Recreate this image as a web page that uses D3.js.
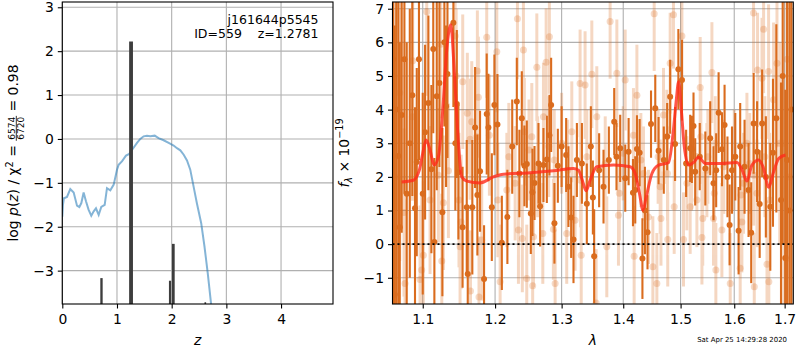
<!DOCTYPE html>
<html><head><meta charset="utf-8">
<script src="https://cdn.jsdelivr.net/npm/d3@7"></script>
<style>body{margin:0;background:#fff}svg text{font-family:"DejaVu Sans",sans-serif}</style>
</head><body><svg id="c" width="800" height="350"></svg>
<script>
// ---------- data ----------
const pzZ = [0,0.012,0.03,0.086,0.146,0.208,0.269,0.311,0.348,0.39,0.433,0.48,0.53,0.574,0.616,0.665,0.713,0.775,0.817,0.878,0.94,1.0,1.03,1.09,1.165,1.225,1.287,1.366,1.426,1.487,1.548,1.61,1.69,1.76,1.853,1.945,2.036,2.097,2.158,2.22,2.28,2.34,2.40,2.46,2.54,2.60,2.66,2.72,2.76];
const pzLog = [-1.77,-1.5,-1.35,-1.32,-1.14,-1.22,-1.52,-1.55,-1.46,-1.22,-1.42,-1.61,-1.75,-1.65,-1.58,-1.73,-1.55,-1.5,-1.12,-1.17,-1.04,-0.70,-0.59,-0.51,-0.38,-0.34,-0.23,-0.09,0.0,0.06,0.075,0.06,0.075,0.02,-0.03,-0.09,-0.15,-0.21,-0.26,-0.36,-0.49,-0.70,-1.08,-1.46,-1.92,-2.45,-3.06,-3.75,-4.3];
const barLo  = [0.695,1.222,1.950,2.005,2.600];
const barHi  = [0.738,1.292,1.990,2.055,2.630];
const barTop = [-3.17,2.22,-3.23,-2.39,-3.72];

const darkWave = [1.0615,1.0635,1.0655,1.0681,1.0700,1.0725,1.0760,1.0790,1.0830,1.0863,1.0898,1.0921,1.0950,1.1000,1.1031,1.1075,1.1115,1.1140,1.1155,1.1187,1.1223,1.1263,1.1290,1.1313,1.1332,1.1413,1.1440,1.1460,1.1482,1.1540,1.1598,1.1612,1.1676,1.1715,1.1747,1.1785,1.1842,1.1880,1.1904,1.1953,1.1990,1.2034,1.2098,1.2179,1.2250,1.2318,1.2356,1.2392,1.2431,1.2467,1.2527,1.2552,1.2583,1.2643,1.2668,1.2719,1.2771,1.2811,1.2837,1.2888,1.2941,1.3000,1.3071,1.3107,1.3150,1.3187,1.3241,1.3321,1.3400,1.3465,1.3498,1.3519,1.3600,1.3672,1.3760,1.3849,1.3887,1.3949,1.4034,1.4091,1.4165,1.4204,1.4233,1.4279,1.4327,1.4370,1.4415,1.4476,1.4550,1.4608,1.4700,1.4760,1.4813,1.4901,1.4960,1.5025,1.5100,1.5174,1.5205,1.5235,1.5266,1.5350,1.5453,1.5544,1.5606,1.5656,1.5702,1.5766,1.5815,1.5870,1.5911,1.5957,1.6020,1.6084,1.6115,1.6200,1.6278,1.6330,1.6378,1.6446,1.6497,1.6546,1.6620,1.6709,1.6763,1.6831,1.6926,1.6960,1.7013,1.7050,1.7100,1.7140];
const darkFlux = [5.5,-1.5,4.0,2.62,0.5,3.84,5.5,1.5,3.0,4.43,1.07,2.44,5.5,1.5,3.33,4.2,2.23,5.8,0.06,4.4,4.79,0.95,6.0,4.1,5.06,6.58,3.0,4.17,2.14,0.5,1.1,-0.89,1.1,3.47,1.46,2.17,-1.04,3.87,3.47,1.1,4.14,3.56,0.04,0.81,2.9,4.24,2.1,3.74,2.33,2.38,0.91,1.54,1.82,2.4,1.13,2.35,2.52,3.24,4.14,0.62,2.33,2.9,2.65,1.71,0.79,0.14,2.5,2.4,1.2,2.9,1.39,-0.36,2.2,1.71,2.5,3.64,2.6,2.85,1.96,2.75,1.53,1.61,2.83,2.72,-0.43,1.0,0.35,3.57,4.04,2.78,2.5,3.2,4.38,2.98,5.2,4.88,2.4,2.85,2.82,3.51,2.15,2.6,2.25,3.15,1.81,2.2,3.91,2.82,3.54,2.0,0.57,2.2,2.6,0.40,2.9,2.3,1.61,0.34,3.59,2.75,1.19,3.59,2.0,1.11,2.72,3.74,1.31,5.0,-0.41,2.5,1.0,4.0];
const darkErr = [8,8,7,6,5.5,3.5,4,4.5,4,3,3,2.8,3,3,2.6,2.6,2.5,2.5,2.5,2.8,2.5,2.5,2.5,2.4,2.5,2.5,2.0,2.2,2.0,1.8,2.0,2.0,2.0,1.8,1.8,1.8,1.6,1.8,1.6,1.6,1.5,1.5,1.4,1.4,1.4,1.3,1.3,1.4,1.2,1.3,1.2,1.3,1.1,1.2,1.2,1.1,1.3,1.2,1.4,1.2,1.1,1.2,1.1,1.2,1.2,1.3,1.1,1.2,1.2,1.2,1.1,1.4,1.1,1.1,1.0,1.0,1.0,1.0,1.0,1.0,1.0,1.0,1.0,1.0,1.2,1.3,1.1,1.0,1.0,1.0,1.0,1.0,1.1,1.1,1.2,1.2,1.0,1.0,1.0,1.0,1.0,1.0,1.1,1.1,1.1,1.1,1.2,1.1,1.2,1.2,1.2,1.3,1.3,1.3,1.3,1.4,1.4,1.5,1.5,1.5,1.6,1.6,1.8,1.9,2.2,2.8,3.5,5,5,7,9,9];

const lightWave = [1.0640,1.0700,1.0755,1.0768,1.0863,1.0868,1.0964,1.0986,1.1008,1.1053,1.1097,1.1209,1.1241,1.1255,1.1277,1.1345,1.1437,1.1451,1.1490,1.1505,1.1520,1.1542,1.1606,1.1644,1.1650,1.1668,1.1738,1.1747,1.1761,1.1770,1.1809,1.1880,1.1918,1.2025,1.2040,1.2073,1.2171,1.2200,1.2293,1.2327,1.2342,1.2400,1.2416,1.2430,1.2466,1.2500,1.2542,1.2555,1.2567,1.2618,1.2630,1.2709,1.2719,1.2760,1.2800,1.2810,1.2872,1.2885,1.2899,1.3000,1.3080,1.3095,1.3160,1.3212,1.3292,1.3300,1.3310,1.3372,1.3400,1.3481,1.3551,1.3562,1.3700,1.3726,1.3781,1.3893,1.3920,1.3935,1.4000,1.4033,1.4173,1.4185,1.4232,1.4300,1.4345,1.4432,1.4508,1.4531,1.4578,1.4600,1.4636,1.4650,1.4695,1.4754,1.4765,1.4770,1.4813,1.4872,1.4885,1.5024,1.5053,1.5114,1.5174,1.5200,1.5297,1.5358,1.5370,1.5390,1.5405,1.5482,1.5500,1.5576,1.5606,1.5620,1.5638,1.5650,1.5764,1.5800,1.5923,1.6000,1.6115,1.6130,1.6148,1.6180,1.6246,1.6300,1.6376,1.6380,1.6390,1.6443,1.6455,1.6543,1.6575,1.6600,1.6643,1.6675,1.6680,1.6695,1.6775,1.6844,1.6900,1.6980,1.7034,1.7050,1.7100];
const lightFlux = [2.0,4.5,0.94,-1.17,3.79,5.45,-1.05,-0.77,-0.33,6.91,1.31,2.05,5.94,-0.5,1.23,2.18,6.19,5.0,1.31,-0.08,0.66,4.83,3.89,3.12,-1.39,3.64,3.19,5.15,4.37,-1.57,0.12,6.15,3.24,5.72,1.31,-1.12,1.61,2.6,1.81,6.7,0.42,0.17,5.77,3.34,-1.02,2.8,3.19,-1.24,0.22,5.26,2.3,0.32,3.79,5.41,2.9,6.17,0.44,2.5,-1.17,3.0,0.32,2.2,3.34,0.71,4.78,1.9,-0.33,4.73,2.6,5.05,-1.75,3.79,2.4,-0.08,6.62,5.08,0.86,1.51,2.7,4.88,3.24,-0.36,4.43,2.5,2.1,0.81,-0.67,6.85,-1.17,2.6,1.71,0.76,3.84,3.19,2.1,0.14,5.38,6.82,1.11,6.19,0.14,1.81,1.11,2.4,1.31,4.66,3.19,0.2,0.76,2.2,2.6,5.1,0.76,1.51,3.0,-0.77,0.42,2.3,-1.17,2.5,-0.72,1.46,0.66,1.81,3.0,2.4,6.87,2.05,-1.27,1.51,5.18,4.93,6.39,2.6,-0.6,5.13,-1.12,1.31,4.29,5.38,3.0,3.0,-0.43,5.5,2.0];
const lightErr = [6,5,2.5,2.5,2.5,2.5,2.2,2.2,2.2,2.5,2.2,2.0,2.2,2.0,2.0,2.0,2.2,2.0,2.0,2.0,2.0,2.0,1.8,1.8,1.8,1.8,1.8,1.8,1.8,1.8,1.8,1.8,1.8,1.8,1.7,1.7,1.7,1.6,1.7,1.8,1.6,1.6,1.7,1.6,1.6,1.5,1.6,1.6,1.5,1.6,1.5,1.5,1.6,1.6,1.5,1.7,1.5,1.5,1.6,1.5,1.5,1.5,1.5,1.5,1.6,1.4,1.5,1.6,1.4,1.6,1.6,1.5,1.4,1.5,1.7,1.6,1.5,1.4,1.4,1.5,1.4,1.5,1.5,1.4,1.4,1.4,1.5,1.7,1.5,1.4,1.4,1.4,1.4,1.4,1.4,1.4,1.5,1.6,1.4,1.6,1.4,1.4,1.4,1.4,1.4,1.5,1.4,1.4,1.4,1.4,1.4,1.5,1.4,1.4,1.4,1.4,1.4,1.4,1.5,1.5,1.5,1.5,1.5,1.5,1.5,1.5,1.8,1.5,1.6,1.6,1.7,1.8,1.9,1.8,1.9,2.0,2.0,2.0,2.3,2.5,3.0,5,5,5,6];

const modelWave = [1.0725,1.0876,1.0955,1.1000,1.1044,1.1097,1.1151,1.1209,1.1268,1.1322,1.1377,1.1422,1.1468,1.1529,1.1598,1.1785,1.1976,1.2121,1.2516,1.2873,1.3186,1.3266,1.3336,1.3389,1.3453,1.3562,1.3838,1.4117,1.4202,1.4276,1.4336,1.4393,1.4492,1.4608,1.4784,1.4865,1.4923,1.4964,1.5013,1.5067,1.5145,1.5236,1.5328,1.5453,1.5732,1.6055,1.6153,1.6247,1.6345,1.6478,1.6564,1.6679,1.6765,1.6882,1.7017];
const modelFlux = [1.85,1.9,2.2,2.7,3.1,2.8,2.35,2.6,3.99,5.77,6.52,5.28,3.49,2.0,1.875,1.82,2.0,2.08,2.12,2.18,2.25,2.2,1.85,1.59,1.9,2.3,2.35,2.3,2.1,1.51,1.01,1.41,2.1,2.35,2.42,3.29,4.29,4.83,3.99,2.9,2.35,2.43,2.58,2.4,2.4,2.43,2.2,1.875,2.35,2.5,2.3,1.69,2.1,2.55,2.65];

const zTicks = [0,1,2,3,4];
const logpTicks = [-3,-2,-1,0,1,2,3];
const waveTicks = [1.1,1.2,1.3,1.4,1.5,1.6,1.7];
const fluxTicks = [-1,0,1,2,3,4,5,6,7];

// ---------- drawing ----------
const svg = d3.select("#c");
const FS = 13.9, LW = 1.1, GRID = "#b0b0b0";
const DARK = "#da6c1e", RED = "#ff2a1a";
const defs = svg.append("defs");

function panel(id, box, xs, ys, xt, yt, xfmt, yfmt) {
  defs.append("clipPath").attr("id", id).append("rect")
    .attr("x", box.x0).attr("y", box.y0).attr("width", box.x1 - box.x0).attr("height", box.y1 - box.y0);
  const g = svg.append("g");
  const grid = g.append("g").attr("stroke", GRID).attr("stroke-width", LW);
  xt.forEach(v => grid.append("line").attr("x1", xs(v)).attr("x2", xs(v)).attr("y1", box.y0).attr("y2", box.y1));
  yt.forEach(v => grid.append("line").attr("y1", ys(v)).attr("y2", ys(v)).attr("x1", box.x0).attr("x2", box.x1));
  const plot = g.append("g").attr("clip-path", `url(#${id})`);
  const ax = svg.append("g").attr("transform", `translate(0,${box.y1})`)
    .call(d3.axisBottom(xs).tickValues(xt).tickFormat(xfmt).tickSize(4.5).tickPadding(4));
  const ay = svg.append("g").attr("transform", `translate(${box.x0},0)`)
    .call(d3.axisLeft(ys).tickValues(yt).tickFormat(yfmt).tickSize(4.5).tickPadding(4));
  [ax, ay].forEach(a => {
    a.select(".domain").remove();
    a.attr("font-size", FS).attr("font-family", "DejaVu Sans");
    a.selectAll("line").attr("stroke", "#000").attr("stroke-width", LW);
    a.selectAll("text").attr("fill", "#000");
  });
  ax.selectAll("text").attr("dy", "0.86em");
  return {plot, frame: () => svg.append("rect").attr("x", box.x0).attr("y", box.y0)
      .attr("width", box.x1 - box.x0).attr("height", box.y1 - box.y0)
      .attr("fill", "none").attr("stroke", "#000").attr("stroke-width", LW)};
}

// Left panel
const LB = {x0: 62.3, x1: 333, y0: 2, y1: 304};
const xz = d3.scaleLinear().domain([0, 4.95]).range([LB.x0, LB.x1]);
const yp = d3.scaleLinear().domain([-3.76, 3.12]).range([LB.y1, LB.y0]);
const P1 = panel("clipL", LB, xz, yp, zTicks, logpTicks, d3.format("d"), d3.format("d"));
P1.plot.append("path").datum(pzZ.map((z, i) => [z, pzLog[i]]))
  .attr("d", d3.line().x(d => xz(d[0])).y(d => yp(d[1])))
  .attr("fill", "none").attr("stroke", "#1f77b4").attr("stroke-opacity", 0.55).attr("stroke-width", 2);
P1.plot.selectAll("rect.bar").data(barTop).enter().append("rect")
  .attr("x", (d, i) => xz(barLo[i])).attr("width", (d, i) => xz(barHi[i]) - xz(barLo[i]))
  .attr("y", d => yp(d)).attr("height", d => LB.y1 - yp(d))
  .attr("fill", "#3d3d3d");
P1.frame();

svg.append("text").attr("x", 318.5).attr("y", 24).attr("text-anchor", "end").attr("font-size", 12.5).text("j161644p5545");
svg.append("text").attr("x", 318.5).attr("y", 38.3).attr("text-anchor", "end").attr("font-size", 12.5)
  .style("white-space", "pre").text("ID=559    z=1.2781");
svg.append("text").attr("x", (LB.x0 + LB.x1) / 2).attr("y", 345).attr("text-anchor", "middle")
  .attr("font-size", FS).attr("font-style", "italic").text("z");

// left y label with stacked fraction
{
  const outer = svg.append("g").attr("transform", `translate(18.3,${(LB.y0 + LB.y1) / 2}) rotate(-90)`);
  const g = outer.append("g");
  const t1 = g.append("text").attr("font-size", FS).attr("x", 0).attr("y", 0);
  t1.append("tspan").text("log ");
  t1.append("tspan").attr("font-style", "italic").text("p");
  t1.append("tspan").text("(");
  t1.append("tspan").attr("font-style", "italic").text("z");
  t1.append("tspan").text(") / χ");
  t1.append("tspan").attr("font-size", 9.7).attr("dy", -5.5).text("2");
  t1.append("tspan").attr("dy", 5.5).style("white-space", "pre").text(" = ");
  const w1 = t1.node().getComputedTextLength();
  const num = g.append("text").attr("font-size", 9).attr("y", -3.6).text("6574");
  const den = g.append("text").attr("font-size", 9).attr("y", 5.4).text("6720");
  const fw = Math.max(num.node().getComputedTextLength(), den.node().getComputedTextLength()) + 2;
  num.attr("x", w1 + fw / 2).attr("text-anchor", "middle");
  den.attr("x", w1 + fw / 2).attr("text-anchor", "middle");
  g.append("line").attr("x1", w1).attr("x2", w1 + fw).attr("y1", -2).attr("y2", -2)
    .attr("stroke", "#000").attr("stroke-width", 0.8);
  const t2 = g.append("text").attr("font-size", FS).attr("x", w1 + fw).attr("y", 0)
    .style("white-space", "pre").text(" = 0.98");
  const total = w1 + fw + t2.node().getComputedTextLength();
  g.attr("transform", `translate(${-total / 2},0)`);
}

// Right panel
const RB = {x0: 392.5, x1: 793.3, y0: 2, y1: 304};
const xw = d3.scaleLog().domain([1.0607, 1.7178]).range([RB.x0, RB.x1]);
const yf = d3.scaleLinear().domain([-1.78, 7.2]).range([RB.y1, RB.y0]);
const P2 = panel("clipR", RB, xw, yf, waveTicks, fluxTicks, d3.format(".1f"), d3.format("d"));

const light = lightWave.map((w, i) => ({w, f: lightFlux[i], e: lightErr[i]}));
const dark = darkWave.map((w, i) => ({w, f: darkFlux[i], e: darkErr[i]}));
const lg = P2.plot.append("g").attr("opacity", 0.27);
lg.selectAll("line").data(light).enter().append("line")
  .attr("x1", d => xw(d.w)).attr("x2", d => xw(d.w))
  .attr("y1", d => yf(d.f - d.e)).attr("y2", d => yf(d.f + d.e))
  .attr("stroke", DARK).attr("stroke-width", 3);
P2.plot.append("g").selectAll("circle").data(light).enter().append("circle")
  .attr("cx", d => xw(d.w)).attr("cy", d => yf(d.f)).attr("r", 3.5)
  .attr("fill", DARK).attr("fill-opacity", 0.25);
P2.plot.append("g").selectAll("line").data(dark).enter().append("line")
  .attr("x1", d => xw(d.w)).attr("x2", d => xw(d.w))
  .attr("y1", d => yf(d.f - d.e)).attr("y2", d => yf(d.f + d.e))
  .attr("stroke", DARK).attr("stroke-width", 2.1);
P2.plot.append("g").selectAll("circle").data(dark).enter().append("circle")
  .attr("cx", d => xw(d.w)).attr("cy", d => yf(d.f)).attr("r", 3).attr("fill", DARK);
P2.plot.append("line").attr("x1", RB.x0).attr("x2", RB.x1).attr("y1", yf(0)).attr("y2", yf(0))
  .attr("stroke", "#000").attr("stroke-width", 1.6).attr("stroke-dasharray", "2,3");
P2.plot.append("path").datum(modelWave.map((w, i) => [w, modelFlux[i]]))
  .attr("d", d3.line().x(d => xw(d[0])).y(d => yf(d[1])).curve(d3.curveMonotoneX))
  .attr("fill", "none").attr("stroke", RED).attr("stroke-opacity", 0.8).attr("stroke-width", 3);
P2.frame();

svg.append("text").attr("x", (RB.x0 + RB.x1) / 2).attr("y", 345).attr("text-anchor", "middle")
  .attr("font-size", FS).attr("font-style", "italic").text("λ");
{
  const t = svg.append("text").attr("transform", `translate(348.5,${(RB.y0 + RB.y1) / 2}) rotate(-90)`)
    .attr("text-anchor", "middle").attr("font-size", FS);
  t.append("tspan").attr("font-style", "italic").text("f");
  t.append("tspan").attr("font-size", 9.7).attr("font-style", "italic").attr("dy", 3).text("λ");
  t.append("tspan").attr("dy", -3).style("white-space", "pre").text(" × 10");
  t.append("tspan").attr("font-size", 9.7).attr("dy", -5.5).text("−19");
}
svg.append("text").attr("x", 787).attr("y", 341.5).attr("text-anchor", "end").attr("font-size", 6.94)
  .text("Sat Apr 25 14:29:28 2020");
</script></body></html>
